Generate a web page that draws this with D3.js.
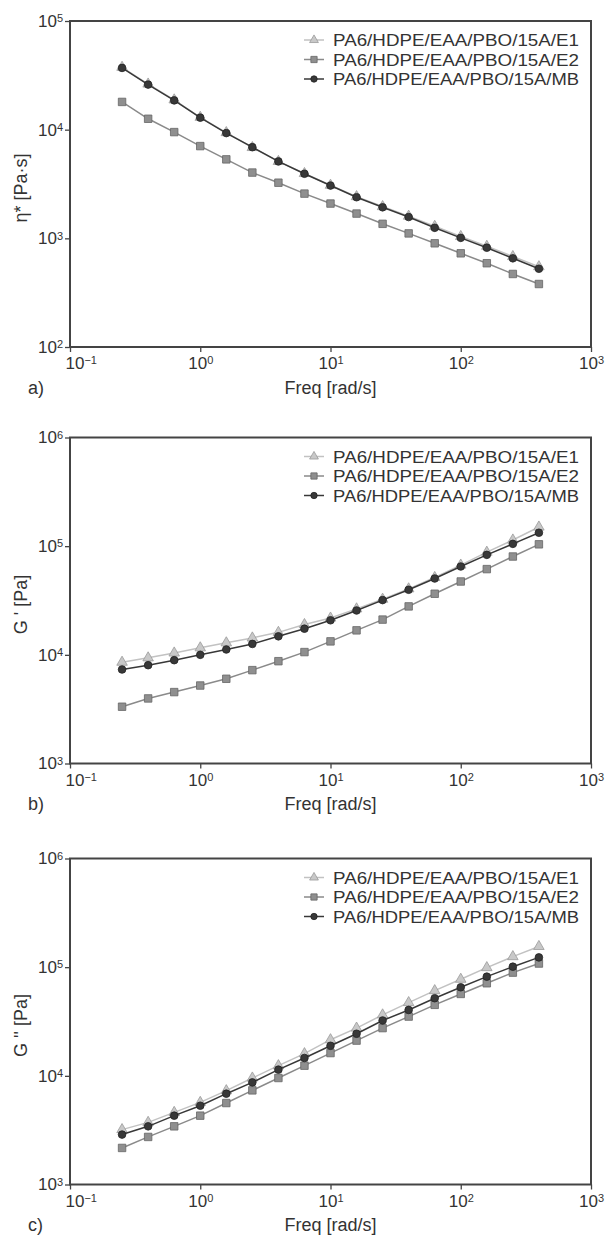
<!DOCTYPE html>
<html>
<head>
<meta charset="utf-8">
<script src="https://cdn.jsdelivr.net/npm/d3@7"></script>
<style>
  body { margin: 0; background: #fff; }
  text { font-family: "Liberation Sans", Arial, sans-serif; fill: #333; }
</style>
</head>
<body>
<div id="chart"></div>
<script>
// frequency points (rad/s)
const freq = [0.251, 0.398, 0.631, 1.0, 1.585, 2.512, 3.981, 6.31, 10.0, 15.85, 25.12, 39.81, 63.1, 100.0, 158.5, 251.2, 398.1];

const seriesNames = ["PA6/HDPE/EAA/PBO/15A/E1", "PA6/HDPE/EAA/PBO/15A/E2", "PA6/HDPE/EAA/PBO/15A/MB"];

// a) complex viscosity [Pa·s]
const etaE1 = [37500, 26300, 18800, 13000, 9400, 6850, 5100, 3950, 3080, 2420, 1960, 1600, 1290, 1040, 845, 680, 548];
const etaE2 = [18000, 12600, 9500, 7060, 5330, 4030, 3250, 2580, 2090, 1690, 1360, 1110, 900, 728, 590, 470, 380];
const etaMB = [37000, 26000, 18600, 12900, 9300, 6900, 5100, 3930, 3060, 2390, 1930, 1570, 1250, 1010, 820, 655, 525];

// b) storage modulus G' [Pa]
const gpE1 = [8550, 9380, 10400, 11600, 12900, 14300, 16100, 19000, 21800, 26500, 32500, 40500, 51500, 67000, 88000, 114000, 150000];
const gpE2 = [3330, 3970, 4540, 5220, 6020, 7230, 8740, 10600, 13300, 16800, 21100, 27900, 36500, 47300, 61500, 80300, 104000];
const gpMB = [7330, 8030, 8930, 10000, 11200, 12600, 14800, 17400, 20800, 25600, 31900, 39700, 50400, 65000, 83200, 105000, 133000];

// c) loss modulus G'' [Pa]
const gppE1 = [3200, 3730, 4610, 5700, 7300, 9550, 12400, 16000, 21500, 27500, 36400, 47200, 60800, 77400, 99000, 125000, 155000];
const gppE2 = [2170, 2740, 3430, 4300, 5620, 7350, 9550, 12400, 16200, 21100, 27500, 35100, 45000, 56700, 71100, 89100, 108000];
const gppMB = [2880, 3430, 4300, 5310, 6850, 8700, 11400, 14600, 18900, 24400, 32300, 40400, 51800, 65300, 81800, 101000, 123000];

const xTicks = [0.1, 1, 10, 100, 1000];

const width = 607, height = 1240;
const svg = d3.select("#chart").append("svg")
  .attr("width", width)
  .attr("height", height);

// plot box
const left = 70, right = 591, plotH = 326;

const panels = [
  { top: 21, domain: [1e2, 1e5], label: "η* [Pa·s]", tag: "a)", data: [etaE1, etaE2, etaMB] },
  { top: 437.5, domain: [1e3, 1e6], label: "G ' [Pa]", tag: "b)", data: [gpE1, gpE2, gpMB] },
  { top: 858.5, domain: [1e3, 1e6], label: "G '' [Pa]", tag: "c)", data: [gppE1, gppE2, gppMB] }
];

const styles = [
  { shape: d3.symbolTriangle, size: 48, fill: "#c8c8c8", stroke: "#999", line: "#c2c2c2" },
  { shape: d3.symbolSquare, size: 56, fill: "#8f8f8f", stroke: "#666", line: "#8a8a8a" },
  { shape: d3.symbolCircle, size: 46, fill: "#383838", stroke: "#222", line: "#383838" }
];

const x = d3.scaleLog().domain([0.1, 1000]).range([left, right]);

// write "10^n" as text with a raised exponent
function powerLabel(sel) {
  sel.each(function(d) {
    const t = d3.select(this);
    const e = Math.round(Math.log10(d));
    t.text(null);
    t.append("tspan").text("10");
    t.append("tspan").attr("dy", "-0.42em").style("font-size", "11px")
      .text(e < 0 ? "\u2212" + (-e) : e);
  });
}

panels.forEach(p => {
  const y = d3.scaleLog().domain(p.domain).range([p.top + plotH, p.top]);
  const g = svg.append("g");

  // x axis
  g.append("g")
    .attr("transform", `translate(0,${p.top + plotH})`)
    .call(d3.axisBottom(x).tickValues(xTicks).tickSize(5).tickPadding(5))
    .call(a => a.select(".domain").remove())
    .call(a => a.selectAll("line").attr("stroke", "#444").attr("stroke-width", 1.3))
    .call(a => a.selectAll("text").attr("font-size", 17).attr("fill", "#333").call(powerLabel))
    .call(a => a.selectAll("text").filter(d => d === 0.1).attr("text-anchor", "start").attr("x", -5));

  // y axis
  const yTicks = d3.range(Math.log10(p.domain[0]), Math.log10(p.domain[1]) + 1).map(e => Math.pow(10, e));
  g.append("g")
    .attr("transform", `translate(${left},0)`)
    .call(d3.axisLeft(y).tickValues(yTicks).tickSize(5).tickPadding(2))
    .call(a => a.select(".domain").remove())
    .call(a => a.selectAll("line").attr("stroke", "#444").attr("stroke-width", 1.3))
    .call(a => a.selectAll("text").attr("font-size", 17).attr("fill", "#333").call(powerLabel));

  // frame
  g.append("rect")
    .attr("x", left).attr("y", p.top)
    .attr("width", right - left).attr("height", plotH)
    .attr("fill", "none").attr("stroke", "#444").attr("stroke-width", 2);

  // series
  const line = d3.line().x((d, i) => x(freq[i])).y(d => y(d));
  p.data.forEach((vals, k) => {
    const s = styles[k];
    g.append("path").datum(vals)
      .attr("d", line)
      .attr("fill", "none")
      .attr("stroke", s.line)
      .attr("stroke-width", 1.5);
    g.selectAll(null).data(vals).enter().append("path")
      .attr("d", d3.symbol().type(s.shape).size(s.size))
      .attr("transform", (d, i) => `translate(${x(freq[i])},${y(d)})`)
      .attr("fill", s.fill)
      .attr("stroke", s.stroke)
      .attr("stroke-width", 0.8);
  });

  // legend
  const lg = g.append("g").attr("transform", `translate(304,${p.top + 19})`);
  seriesNames.forEach((name, k) => {
    const s = styles[k];
    const row = lg.append("g").attr("transform", `translate(0,${k * 19.5})`);
    row.append("line").attr("x1", 0).attr("x2", 20)
      .attr("stroke", s.line).attr("stroke-width", 1.5);
    row.append("path")
      .attr("d", d3.symbol().type(s.shape).size(s.size * 0.7))
      .attr("transform", "translate(10,0)")
      .attr("fill", s.fill).attr("stroke", s.stroke).attr("stroke-width", 0.8);
    row.append("text").attr("x", 29).attr("dy", "0.36em")
      .attr("font-size", 17).attr("textLength", 246).attr("lengthAdjust", "spacingAndGlyphs")
      .text(name);
  });

  // axis titles
  g.append("text")
    .attr("x", (left + right) / 2).attr("y", p.top + plotH + 46.5)
    .attr("text-anchor", "middle").attr("font-size", 18)
    .text("Freq [rad/s]");
  g.append("text")
    .attr("transform", `translate(27,${p.top + plotH / 2 + 4}) rotate(-90)`)
    .attr("text-anchor", "middle").attr("font-size", 18)
    .text(p.label);
  g.append("text")
    .attr("x", 28).attr("y", p.top + plotH + 46.5)
    .attr("font-size", 18)
    .text(p.tag);
});
</script>
</body>
</html>
